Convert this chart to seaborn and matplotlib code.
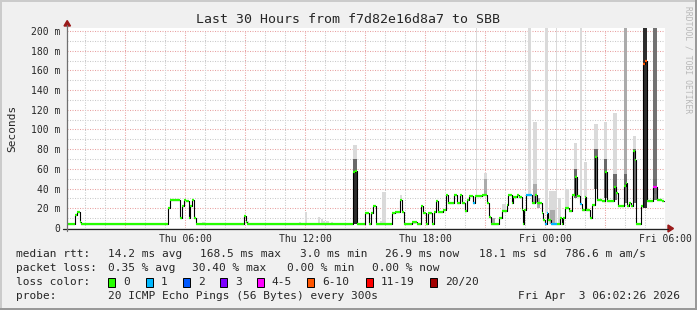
import numpy as np
import pandas as pd
import matplotlib
matplotlib.use("Agg")
import matplotlib.pyplot as plt
import seaborn as sns
from matplotlib.patches import Rectangle, Polygon
from matplotlib.lines import Line2D

# ---------------- data (hours since Thu 00:00, values in ms) ----------------
med_t = [0.1, 0.5, 0.6, 0.75, 0.8,
         5.15, 5.25, 5.75, 5.85, 5.93, 6.05, 6.2, 6.27, 6.35, 6.45, 6.53,
         8.93, 9.03, 9.1,
         14.4, 14.5, 14.6,
         15.0, 15.2, 15.28, 15.42, 15.53,
         16.33, 16.5, 16.75, 16.83, 16.97,
         17.33, 17.58, 17.8, 17.92, 18.03, 18.13, 18.37, 18.45, 18.53, 18.63,
         18.92, 19.03, 19.17, 19.47, 19.58, 19.75, 19.87, 20.0, 20.08, 20.2,
         20.42, 20.5, 20.83, 21.1, 21.2, 21.28,
         21.72, 21.83, 22.08, 22.17, 22.33, 22.42, 22.58, 22.7, 22.83, 22.88,
         22.97, 23.05, 23.33, 23.5, 23.58, 23.83, 23.92, 24.0, 24.08, 24.17,
         24.28, 24.6, 24.75, 24.83, 24.92, 25.0, 25.22, 25.33, 25.5, 25.58,
         25.75, 25.83, 26.0, 26.05, 26.25, 26.33, 26.5, 26.62, 26.83, 27.0,
         27.1, 27.45, 27.55, 27.67, 27.95, 28.05, 28.12, 28.22, 28.3, 28.42,
         28.5, 28.57, 28.8, 28.92, 29.0, 29.12, 29.42, 29.62, 29.83]
med_v = [4, 13, 16, 6, 4,
         20, 28, 10, 22, 28, 27, 10, 22, 28, 10, 4,
         12, 6, 4,
         57, 58, 4,
         15, 4, 15, 22, 4,
         15, 16, 28, 16, 4,
         6, 4, 22, 15, 4, 15, 4, 16, 27, 16,
         18, 33, 25, 33, 25, 33, 25, 17, 28, 32,
         25, 32, 33, 25, 11, 4,
         10, 17, 23, 33, 25, 31, 33, 31, 18, 4,
         18, 33, 25, 33, 25, 15, 8, 4, 15, 8,
         4, 4, 10, 4, 10, 20, 17, 33, 52, 32,
         24, 18, 31, 18, 10, 23, 72, 28, 27, 57,
         27, 42, 36, 22, 43, 46, 22, 25, 22, 78,
         69, 4, 22, 166, 169, 27, 42, 28, 27]
med_loss = [0, 0, 0, 0, 0,
            0, 0, 0, 0, 0, 0, 0, 0, 0, 0, 0,
            0, 0, 0,
            0, 0, 0,
            0, 0, 0, 0, 0,
            0, 0, 0, 0, 0,
            0, 0, 0, 0, 0, 0, 0, 0, 0, 0,
            0, 0, 0, 0, 0, 0, 0, 0, 0, 0,
            1, 0, 0, 0, 0, 0,
            0, 0, 0, 0, 0, 0, 0, 0, 0, 0,
            0, 1, 0, 0, 0, 0, 0, 1, 1, 0,
            1, 0, 0, 0, 0, 0, 0, 0, 0, 0,
            1, 0, 0, 0, 0, 0, 0, 0, 0, 0,
            0, 0, 0, 0, 0, 0, 0, 0, 0, 0,
            0, 0, 0, 5, 5, 0, 4, 0, 0]
t_end = 29.95

# smoke columns: start, end, low, high, shade index
smoke_t0 = [6.85, 9.1, 11.7, 12.0, 12.65, 12.8, 12.9, 13.05, 13.3,
            14.4, 14.4, 14.4, 15.75, 15.85, 16.75, 17.35,
            20.55, 20.95, 20.95, 21.28, 21.85,
            23.17, 23.42, 23.42, 23.6, 24.0, 24.2, 24.25, 24.55, 24.65,
            25.0, 25.45, 25.45, 25.75, 25.95,
            26.45, 26.45, 26.95, 26.95, 27.42, 27.42,
            27.93, 27.93, 28.4, 28.4, 28.9, 29.4, 29.4]
smoke_t1 = [7.0, 9.2, 11.8, 12.08, 12.75, 12.9, 13.0, 13.2, 13.4,
            14.6, 14.6, 14.6, 15.85, 16.05, 16.85, 17.55,
            20.62, 21.1, 21.1, 21.5, 22.05,
            23.28, 23.58, 23.58, 23.75, 24.17, 24.55, 24.5, 24.62, 24.8,
            25.2, 25.62, 25.62, 25.83, 26.08,
            26.63, 26.63, 27.12, 27.12, 27.58, 27.58,
            28.12, 28.12, 28.57, 28.57, 29.1, 29.6, 29.6]
smoke_lo = [4, 4, 4, 4, 4, 4, 4, 4, 4,
            4, 57, 70, 4, 4, 28, 4,
            32, 33, 50, 4, 17,
            33, 25, 25, 20, 15, 4, 4, 4, 4,
            20, 52, 30, 24, 31,
            72, 40, 57, 30, 42, 28,
            25, 25, 78, 25, 20, 28, 35]
smoke_hi = [6.5, 7, 6, 16, 11, 9, 7, 7, 6,
            57, 70, 84, 7, 37, 34, 7,
            205, 50, 56, 10, 24,
            205, 108, 45, 30, 205, 38, 18, 205, 30,
            40, 86, 60, 205, 67,
            106, 80, 108, 70, 117, 55,
            205, 55, 93, 80, 205, 205, 50]
smoke_shade = [0, 0, 0, 0, 0, 0, 0, 0, 0,
               3, 2, 0, 0, 0, 0, 0,
               0, 1, 0, 1, 0,
               0, 0, 1, 1, 0, 0, 1, 0, 0,
               0, 0, 2, 0, 0,
               0, 2, 0, 2, 0, 2,
               1, 2, 0, 2, 3, 4, 2]
shade_colors = ["#DADADA", "#ABABAB", "#6A6A6A", "#2E2E2E", "#737373"]

loss_labels = ["0", "1", "2", "3", "4-5", "6-10", "11-19", "20/20"]
loss_colors = ["#26ff00", "#00b8ff", "#0059ff", "#7e00ff", "#ff00ff",
               "#ff5500", "#ff0000", "#a10000"]

x_tick_hours = [6, 12, 18, 24, 30]
x_tick_labels = ["Thu 06:00", "Thu 12:00", "Thu 18:00", "Fri 00:00", "Fri 06:00"]
y_ticks = [0, 20, 40, 60, 80, 100, 120, 140, 160, 180, 200]
y_tick_labels = ["0"] + [f"{v} m" for v in y_ticks[1:]]

title = "Last 30 Hours from f7d82e16d8a7 to SBB"
stats_rtt = ["median rtt:", "14.2 ms avg", "168.5 ms max", "3.0 ms min",
             "26.9 ms now", "18.1 ms sd", "786.6 m am/s"]
stats_loss = ["packet loss:", "0.35 % avg", "30.40 % max", "0.00 % min", "0.00 % now"]
probe_text = "20 ICMP Echo Pings (56 Bytes) every 300s"
date_text = "Fri Apr  3 06:02:26 2026"

# ---------------- figure ----------------
W, H = 697, 310
sns.set_theme(style="white")
plt.rcParams["font.family"] = ["DejaVu Sans Mono"]

fig = plt.figure(figsize=(W / 100, H / 100), dpi=100, facecolor="#F0F0F0")


def fx(x):
    return x / W


def fy(y):
    return 1 - y / H


ax = fig.add_axes([fx(67), fy(228), fx(665) - fx(67), fy(28) - fy(228)])
ax.set_facecolor("white")
ax.set_xlim(0.1, 30)
ax.set_ylim(0, 203)
for s in ax.spines.values():
    s.set_visible(False)

# grid
dot = (0, (1, 1.4))
for v in range(10, 201, 10):
    col = "#E8A2A2" if v % 20 == 0 else "#CACACA"
    ax.hlines(v, 0.1, 30, colors=col, linestyles=dot, lw=0.75, zorder=0)
for h in range(1, 30):
    col = "#E8A2A2" if h % 3 == 0 else "#CACACA"
    ax.vlines(h, 0, 200, colors=col, linestyles=dot, lw=0.75, zorder=0)

# smoke
ax.bar(x=smoke_t0, height=np.subtract(smoke_hi, smoke_lo), bottom=smoke_lo,
       width=np.subtract(smoke_t1, smoke_t0), align="edge",
       color=[shade_colors[i] for i in smoke_shade], linewidth=0, zorder=1)

# median step line
df = pd.DataFrame({"t": med_t + [t_end], "v": med_v + [med_v[-1]]})
sns.lineplot(data=df, x="t", y="v", drawstyle="steps-post", color="black",
             lw=0.8, ax=ax, estimator=None, zorder=2)
ends = med_t[1:] + [t_end]
ax.hlines(med_v, med_t, ends, colors=[loss_colors[i] for i in med_loss],
          lw=1.6, zorder=3)

ax.set_xlabel("")
ax.set_ylabel("")
ax.set_xticks(x_tick_hours)
ax.set_xticklabels(x_tick_labels, fontsize=7)
ax.set_yticks(y_ticks)
ax.set_yticklabels(y_tick_labels, fontsize=7)
ax.tick_params(axis="x", length=0, pad=4)
ax.tick_params(axis="y", length=0, pad=5)

# axis lines and arrows
fig.add_artist(Line2D([fx(63), fx(668)], [fy(228.5), fy(228.5)], color="#222222", lw=0.9))
fig.add_artist(Line2D([fx(67), fx(67)], [fy(231), fy(25)], color="#707070", lw=0.9))
fig.add_artist(Polygon([(fx(64), fy(26)), (fx(70.5), fy(26)), (fx(67.2), fy(20.5))],
                       closed=True, color="#9A1A1A", transform=fig.transFigure))
fig.add_artist(Polygon([(fx(668), fy(225)), (fx(668), fy(232)), (fx(673.5), fy(228.5))],
                       closed=True, color="#9A1A1A", transform=fig.transFigure))

# frame
fig.add_artist(Rectangle((0, fy(2)), 1, fy(0) - fy(2), transform=fig.transFigure, color="#CBCBCB", lw=0))
fig.add_artist(Rectangle((0, 0), fx(2), 1, transform=fig.transFigure, color="#CBCBCB", lw=0))
fig.add_artist(Rectangle((0, 0), 1, 2 / H, transform=fig.transFigure, color="#999999", lw=0))
fig.add_artist(Rectangle((fx(695), 0), fx(2), 1, transform=fig.transFigure, color="#999999", lw=0))

# texts
fig.text(0.5, fy(19.5), title, ha="center", va="center", fontsize=9.5)
fig.text(fx(12), fy(128), "Seconds", rotation=90, ha="center", va="center", fontsize=8)
fig.text(fx(688), fy(60), "RRDTOOL / TOBI OETIKER", rotation=270, ha="center",
         va="center", fontsize=5.8, color="#B8B8B8")

rtt_x = [15.6, 107.6, 200, 300, 385.3, 479, 565]
for txt, x in zip(stats_rtt, rtt_x):
    fig.text(fx(x), fy(254.3), txt, ha="left", va="center", fontsize=8)
loss_x = [15.6, 107.6, 192, 286.7, 372.4]
for txt, x in zip(stats_loss, loss_x):
    fig.text(fx(x), fy(268.3), txt, ha="left", va="center", fontsize=8)

fig.text(fx(15.6), fy(282.3), "loss color:", ha="left", va="center", fontsize=8)
box_x = [108.3, 145.7, 182.7, 220, 256.7, 307.3, 365.7, 430]
for lab, col, x in zip(loss_labels, loss_colors, box_x):
    fig.add_artist(Rectangle((fx(x), fy(286.5)), fx(7), fy(278) - fy(286.5),
                             transform=fig.transFigure, facecolor=col,
                             edgecolor="black", lw=0.7))
    fig.text(fx(x + 15), fy(282.3), lab, ha="left", va="center", fontsize=8)

fig.text(fx(15.6), fy(296), "probe:", ha="left", va="center", fontsize=8)
fig.text(fx(107.6), fy(296), probe_text, ha="left", va="center", fontsize=8)
fig.text(fx(680), fy(296), date_text, ha="right", va="center", fontsize=8)

fig.savefig("out.png", dpi=100, facecolor=fig.get_facecolor())
